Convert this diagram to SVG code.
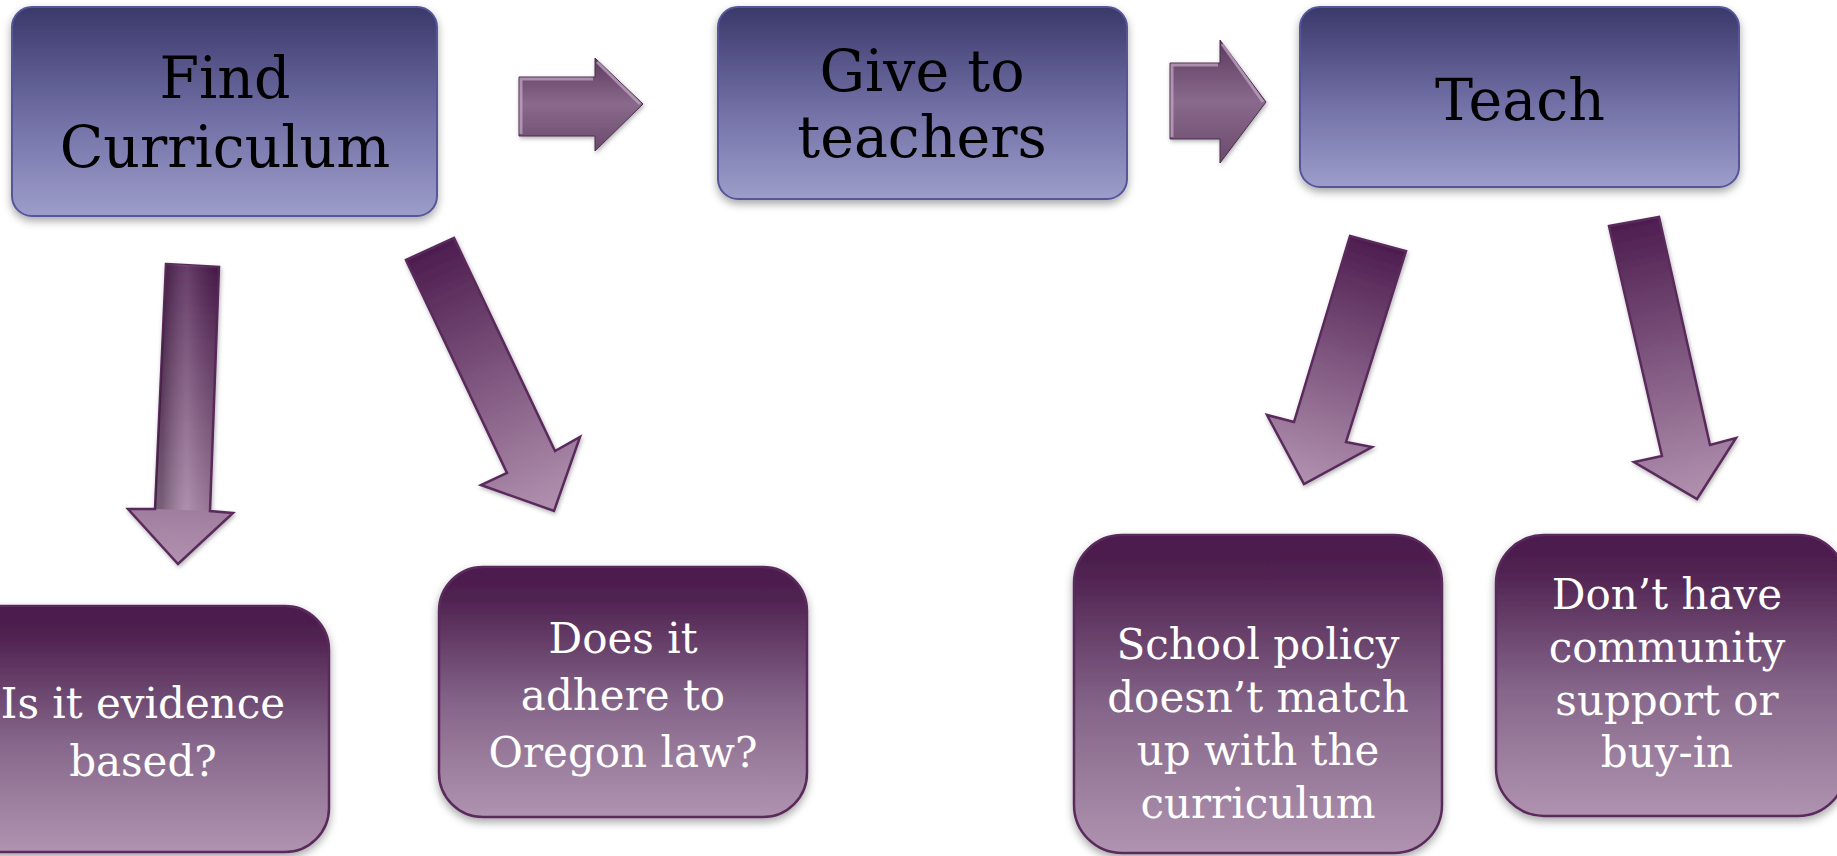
<svg xmlns="http://www.w3.org/2000/svg" width="1837" height="856" viewBox="0 0 1837 856">
<defs>
<linearGradient id="gTop" x1="0" y1="0" x2="0" y2="1">
<stop offset="0" stop-color="#3a386a"/>
<stop offset="0.5" stop-color="#6e6ca2"/>
<stop offset="1" stop-color="#9d9dcb"/>
</linearGradient>
<linearGradient id="gBot" x1="0" y1="0" x2="0" y2="1">
<stop offset="0" stop-color="#4b1c4d"/>
<stop offset="0.12" stop-color="#4f2150"/>
<stop offset="0.55" stop-color="#85668a"/>
<stop offset="1" stop-color="#b093b0"/>
</linearGradient>
<linearGradient id="gRight" x1="0" y1="0" x2="0" y2="1">
<stop offset="0" stop-color="#5b3a5e"/>
<stop offset="0.5" stop-color="#8a6a8c"/>
<stop offset="1" stop-color="#6a4a6c"/>
</linearGradient>
<linearGradient id="gA1" gradientUnits="userSpaceOnUse" x1="192" y1="266" x2="179" y2="564">
<stop offset="0" stop-color="#4d1d4f"/><stop offset="1" stop-color="#b292b0"/>
</linearGradient>
<linearGradient id="gA1s" gradientUnits="userSpaceOnUse" x1="162" y1="0" x2="218" y2="0">
<stop offset="0" stop-color="#000" stop-opacity="0.25"/><stop offset="0.45" stop-color="#fff" stop-opacity="0.15"/><stop offset="1" stop-color="#000" stop-opacity="0.1"/>
</linearGradient>
<linearGradient id="gA2" gradientUnits="userSpaceOnUse" x1="430" y1="249" x2="554" y2="511">
<stop offset="0" stop-color="#4d1d4f"/><stop offset="1" stop-color="#b292b0"/>
</linearGradient>
<linearGradient id="gA3" gradientUnits="userSpaceOnUse" x1="1378" y1="243" x2="1304" y2="484">
<stop offset="0" stop-color="#4d1d4f"/><stop offset="1" stop-color="#b292b0"/>
</linearGradient>
<linearGradient id="gA4" gradientUnits="userSpaceOnUse" x1="1634" y1="221" x2="1697" y2="499">
<stop offset="0" stop-color="#4d1d4f"/><stop offset="1" stop-color="#b292b0"/>
</linearGradient>
<filter id="sh" x="-10%" y="-10%" width="120%" height="130%">
<feDropShadow dx="0" dy="4" stdDeviation="4" flood-color="#000" flood-opacity="0.35"/>
</filter>
<filter id="shs" x="-20%" y="-20%" width="140%" height="140%">
<feDropShadow dx="1" dy="2" stdDeviation="2" flood-color="#000" flood-opacity="0.3"/>
</filter>
</defs>
<style>
.top{fill:url(#gTop);stroke:#57559a;stroke-width:2;filter:url(#sh)}
.bot{fill:url(#gBot);stroke:#5a2a5c;stroke-width:2.5;filter:url(#sh)}
.hl{fill:none;stroke:#ffffff;stroke-opacity:0.25;stroke-width:2}
.tt{font-family:"DejaVu Serif","Liberation Serif",serif;font-size:57px;fill:#000;text-anchor:middle}
.bt{font-family:"DejaVu Serif","Liberation Serif",serif;font-size:42px;fill:#fff;text-anchor:middle}
.darr{stroke:#5a2a5c;stroke-width:2.5;stroke-linejoin:miter;filter:url(#shs)}
.rarr{fill:url(#gRight);stroke:#4a2f4c;stroke-width:1;filter:url(#shs)}
.bevel{fill:none;stroke:#c6a9c8;stroke-opacity:0.7;stroke-width:3}
</style>
<rect width="1837" height="856" fill="#ffffff"/>

<g id="connectors">
<g id="arrow-right-1">
<polygon class="rarr" points="519,77 595,77 595,58 643,104 595,151 595,136 519,136"/>
<polyline class="bevel" points="521,134 521,79 593,79"/>
<polyline class="bevel" points="597,62 640,104" stroke-opacity="0.4"/>
</g>
<g id="arrow-right-2">
<polygon class="rarr" points="1170,63 1220,63 1220,40 1266,102 1220,163 1220,139 1170,139"/>
<polyline class="bevel" points="1172,137 1172,65 1218,65"/>
<polyline class="bevel" points="1222,44 1263,102" stroke-opacity="0.4"/>
</g>
<g id="arrow-down-1">
<polygon class="darr" fill="url(#gA1)" points="166,264 219,267 210,511 233,513 178,564 128,509 155,509"/>
<polygon fill="url(#gA1s)" points="166,264 219,267 210,511 155,509"/>
</g>
<g id="arrow-down-2">
<polygon class="darr" fill="url(#gA2)" points="406,260 454,238 555,451 580,437 554,511 481,485 507,473"/>
</g>
<g id="arrow-down-3">
<polygon class="darr" fill="url(#gA3)" points="1350,236 1406,251 1346,442 1372,447 1304,484 1267,415 1294,422"/>
</g>
<g id="arrow-down-4">
<polygon class="darr" fill="url(#gA4)" points="1609,226 1659,217 1710,445 1736,438 1697,499 1634,462 1662,456"/>
</g>
</g>

<g id="node-find-curriculum">
<rect class="top" x="12" y="7" width="425" height="209" rx="20"/>
<text class="tt" x="225" y="98">Find</text>
<text class="tt" x="225" y="167">Curriculum</text>
</g>
<g id="node-give-to-teachers">
<rect class="top" x="718" y="7" width="409" height="192" rx="20"/>
<text class="tt" x="922" y="91">Give to</text>
<text class="tt" x="922" y="157">teachers</text>
</g>
<g id="node-teach">
<rect class="top" x="1300" y="7" width="439" height="180" rx="20"/>
<text class="tt" x="1520" y="120">Teach</text>
</g>

<g id="node-evidence-based">
<rect class="bot" x="-43" y="606" width="372" height="246" rx="44"/>
<text class="bt" x="143" y="718">Is it evidence</text>
<text class="bt" x="143" y="776">based?</text>
</g>
<g id="node-oregon-law">
<rect class="bot" x="439" y="567" width="368" height="250" rx="44"/>
<text class="bt" x="623" y="653">Does it</text>
<text class="bt" x="623" y="710">adhere to</text>
<text class="bt" x="623" y="767">Oregon law?</text>
</g>
<g id="node-school-policy">
<rect class="bot" x="1074" y="535" width="368" height="318" rx="48"/>
<text class="bt" x="1258" y="659">School policy</text>
<text class="bt" x="1258" y="712">doesn’t match</text>
<text class="bt" x="1258" y="765">up with the</text>
<text class="bt" x="1258" y="818">curriculum</text>
</g>
<g id="node-community-support">
<rect class="bot" x="1496" y="535" width="350" height="281" rx="48"/>
<text class="bt" x="1667" y="609">Don’t have</text>
<text class="bt" x="1667" y="662">community</text>
<text class="bt" x="1667" y="715">support or</text>
<text class="bt" x="1667" y="767">buy-in</text>
</g>
</svg>
